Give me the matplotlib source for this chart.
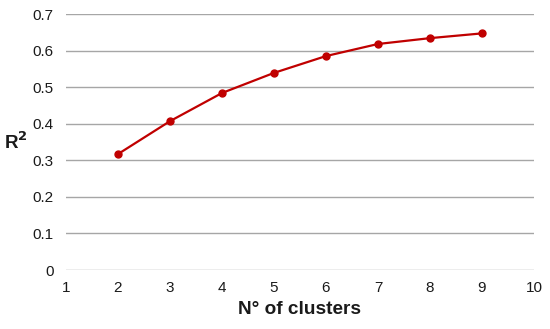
import numpy as np
import matplotlib
matplotlib.use("Agg")
import matplotlib.pyplot as plt

plt.rcParams['font.family'] = ['Liberation Sans', 'DejaVu Sans']

clusters = [2, 3, 4, 5, 6, 7, 8, 9]
r2 = [0.317, 0.407, 0.484, 0.539, 0.585, 0.618, 0.634, 0.647]
yticks = [0, 0.1, 0.2, 0.3, 0.4, 0.5, 0.6, 0.7]
xticks = list(range(1, 11))

fig = plt.figure(figsize=(5.5, 3.29), dpi=100)
ax = fig.add_axes([66/550, 1-270/329, (534-66)/550, (270-14)/329])

for y in yticks:
    ax.axhline(y, color='#a6a6a6', lw=1.0, zorder=1)
ax.plot(clusters, r2, color='#c00000', lw=1.6, marker='o', markersize=5, zorder=3)

ax.set_xlim(1, 10)
ax.set_ylim(0, 0.7)
ax.set_xticks(xticks)
ax.set_yticks(yticks)
ax.set_yticklabels(['0'] + ['%.1f' % v for v in yticks[1:]])
for s in ax.spines.values():
    s.set_visible(False)
ax.tick_params(axis='both', length=0, labelsize=11, colors='#1a1a1a')
ax.tick_params(axis='y', pad=9)
ax.tick_params(axis='x', pad=8)
ax.set_xlabel('N° of clusters', fontsize=13.7, fontweight='bold', labelpad=4, color='#1a1a1a')
ax.set_ylabel('R$^\\mathbf{2}$', fontsize=13.5, fontweight='bold', rotation=0, labelpad=12,
              va='center', color='#1a1a1a')

fig.savefig('out.png', dpi=100)
